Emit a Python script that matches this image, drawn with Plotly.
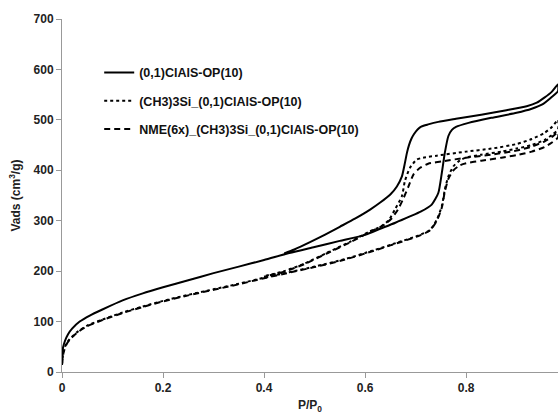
import plotly.graph_objects as go

# Series names
names = ["(0,1)ClAlS-OP(10)", "(CH3)3Si_(0,1)ClAlS-OP(10)", "NME(6x)_(CH3)3Si_(0,1)ClAlS-OP(10)"]

# Series 1: (0,1)ClAlS-OP(10)
s1_ads_x = [0, 0.002, 0.006, 0.012, 0.02, 0.035, 0.055, 0.08, 0.12, 0.16, 0.2, 0.25, 0.3, 0.35, 0.4,
            0.45, 0.5, 0.55, 0.6, 0.63, 0.66, 0.69, 0.71, 0.732, 0.745, 0.752, 0.758, 0.765, 0.772,
            0.78, 0.805, 0.85, 0.9, 0.93, 0.95, 0.968, 0.982]
s1_ads_y = [20, 48, 62, 75, 86, 100, 112, 124, 142, 156, 168, 182, 196, 209, 222,
            236, 248, 260, 272, 284, 296, 309, 318, 332, 355, 395, 435, 468, 480,
            486, 494, 504, 514, 522, 530, 544, 557]
s1_des_x = [0.982, 0.97, 0.955, 0.94, 0.92, 0.88, 0.83, 0.78, 0.745, 0.725, 0.712, 0.704, 0.697,
            0.692, 0.687, 0.683, 0.678, 0.673, 0.663, 0.65, 0.63, 0.61, 0.58, 0.55, 0.52, 0.49,
            0.46, 0.44]
s1_des_y = [570, 556, 544, 534, 527, 519, 510, 502, 496, 491, 487, 481, 472,
            463, 450, 435, 410, 388, 368, 352, 336, 322, 304, 288, 272, 257,
            243, 235]

# Series 2: (CH3)3Si_(0,1)ClAlS-OP(10)
s2_ads_x = [0, 0.003, 0.008, 0.015, 0.03, 0.05, 0.08, 0.12, 0.16, 0.2, 0.25, 0.3, 0.35, 0.4, 0.45,
            0.5, 0.557, 0.6, 0.65, 0.709, 0.729, 0.742, 0.752, 0.758, 0.765, 0.775, 0.788, 0.8,
            0.83, 0.87, 0.9, 0.93, 0.955, 0.97, 0.982]
s2_ads_y = [15, 40, 55, 65, 79, 92, 104, 118, 130, 141, 153, 164, 175, 187, 198,
            209, 223, 236, 252, 272, 282, 302, 329, 362, 388, 408, 420, 425,
            431, 437, 443, 450, 460, 470, 481]
s2_des_x = [0.982, 0.97, 0.955, 0.93, 0.9, 0.85, 0.8, 0.742, 0.715, 0.702, 0.689, 0.679, 0.673,
            0.659, 0.646, 0.63, 0.61, 0.57, 0.524, 0.48, 0.44, 0.4]
s2_des_y = [500, 486, 474, 462, 452, 443, 437, 429, 425, 421, 405, 379, 349,
            322, 300, 288, 279, 258, 236, 215, 200, 190]

# Series 3: NME(6x)_(CH3)3Si_(0,1)ClAlS-OP(10)
s3_ads_x = [0, 0.003, 0.008, 0.015, 0.03, 0.05, 0.08, 0.12, 0.16, 0.2, 0.25, 0.3, 0.35, 0.4, 0.45,
            0.5, 0.557, 0.6, 0.65, 0.709, 0.729, 0.742, 0.752, 0.758, 0.765, 0.775, 0.788, 0.8,
            0.83, 0.87, 0.9, 0.93, 0.955, 0.97, 0.982]
s3_ads_y = [14, 38, 53, 64, 78, 91, 103, 117, 129, 140, 152, 163, 174, 186, 197,
            208, 222, 235, 251, 271, 281, 300, 326, 358, 383, 400, 410, 414,
            419, 425, 430, 437, 446, 455, 465]
s3_des_x = [0.982, 0.97, 0.955, 0.93, 0.9, 0.85, 0.8, 0.755, 0.725, 0.709, 0.696, 0.686, 0.675,
            0.665, 0.652, 0.635, 0.61, 0.57, 0.524, 0.48, 0.44, 0.4]
s3_des_y = [475, 466, 457, 447, 439, 431, 425, 418, 413, 405, 392, 368, 342,
            322, 304, 290, 278, 257, 235, 214, 199, 189]

# Axis ticks
x_ticks = [0, 0.2, 0.4, 0.6, 0.8]
x_tick_labels = ["0", "0.2", "0.4", "0.6", "0.8"]

series = [
    (s1_ads_x + s1_des_x, s1_ads_y + s1_des_y, "solid"),
    (s2_ads_x + s2_des_x, s2_ads_y + s2_des_y, "dot"),
    (s3_ads_x + s3_des_x, s3_ads_y + s3_des_y, "6px,4px"),
]

FONT = "Liberation Sans, Arial, sans-serif"

fig = go.Figure()
for i, (xs, ys, dash) in enumerate(series):
    fig.add_trace(go.Scatter(
        x=xs, y=ys, mode="lines", name=names[i], legendgroup=f"g{i}",
        line=dict(color="black", width=2, dash=dash, shape="spline", smoothing=0.6),
    ))

axis_font = dict(family=FONT, size=12, color="#222222", weight="bold")

fig.update_layout(
    width=558, height=417,
    margin=dict(l=62, r=0, t=19, b=45),
    paper_bgcolor="white", plot_bgcolor="white",
    font=dict(family=FONT, size=12, color="#222222", weight="bold"),
    showlegend=True,
    legend=dict(x=0.075, y=0.89, xanchor="left", yanchor="top",
                bgcolor="rgba(0,0,0,0)", traceorder="grouped", tracegroupgap=9,
                itemwidth=30,
                font=dict(family=FONT, size=12.5, color="#111111", weight="bold")),
    xaxis=dict(range=[0, 0.982], tickvals=x_ticks, ticktext=x_tick_labels, automargin=False,
               showgrid=False, zeroline=False, showline=True, linecolor="#999999", linewidth=1,
               ticks="outside", ticklen=5, tickcolor="#999999", tickfont=axis_font,
               title=dict(text="P/P<sub>0</sub>", font=axis_font, standoff=6)),
    yaxis=dict(range=[0, 700], dtick=100, showgrid=False, zeroline=False, showline=True,
               automargin=False,
               linecolor="#999999", linewidth=1, ticks="outside", ticklen=5, tickcolor="#999999",
               tickfont=axis_font,
               title=dict(text="Vads (cm<sup>3</sup>/g)", font=axis_font, standoff=10)),
)

fig.write_html("out.html", config={"displayModeBar": False},
               post_script="document.body.style.margin='0';")
